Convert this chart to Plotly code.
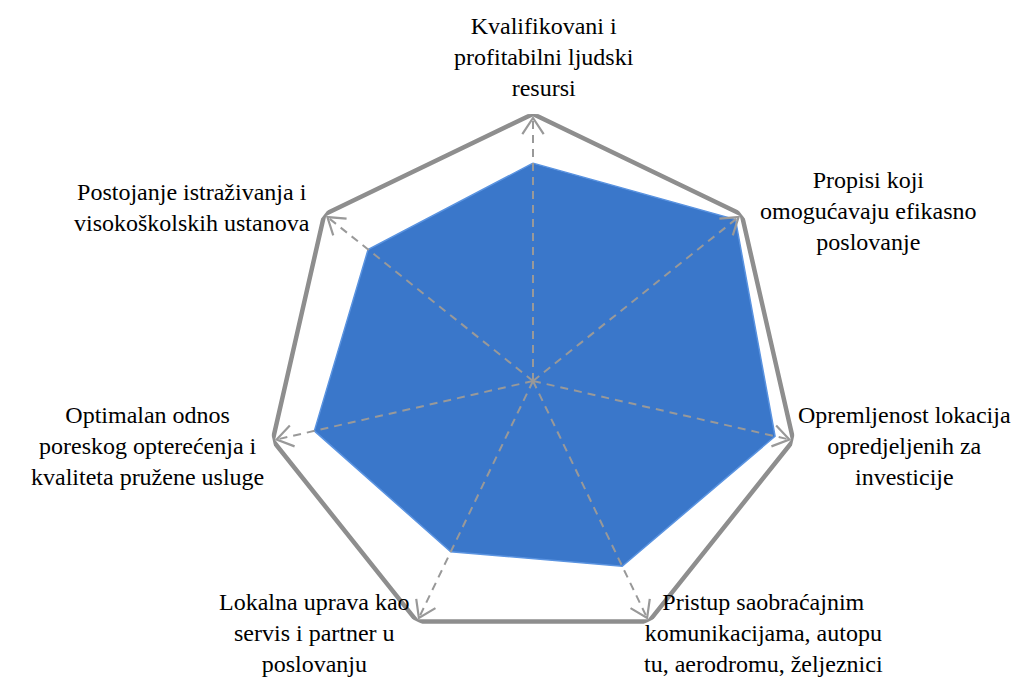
import numpy as np
import plotly.graph_objects as go

categories = [
    "Kvalifikovani i<br>profitabilni ljudski<br>resursi",
    "Propisi koji<br>omogućavaju efikasno<br>poslovanje",
    "Opremljenost lokacija<br>opredjeljenih za<br>investicije",
    "Pristup saobraćajnim<br>komunikacijama, autopu<br>tu, aerodromu, željeznici",
    "Lokalna uprava kao<br>servis i partner u<br>poslovanju",
    "Optimalan odnos<br>poreskog opterećenja i<br>kvaliteta pružene usluge",
    "Postojanje istraživanja i<br>visokoškolskih ustanova",
]
values = [4.08, 4.85, 4.65, 3.85, 3.55, 4.2, 3.95]
rmax = 5.0

# label placement (paper px centres)
label_pos = [(536, 49), (860, 203), (896, 438), (755, 625), (306, 625), (139, 438), (184, 199)]

W, H = 1035, 677
cx, cy, R = 525, 373, 267
dom_x = [(cx - R) / W, (cx + R) / W]
dom_y = [(H - cy - R) / H, (H - cy + R) / H]

n = len(categories)
thetas = [i * 360.0 / n for i in range(n)]
GREY = "#8e8e8e"
FONT = "Liberation Serif"

fig = go.Figure()
fig.add_trace(go.Scatterpolar(
    r=values + [values[0]],
    theta=thetas + [thetas[0]],
    fill="toself",
    fillcolor="#3a77ca",
    line=dict(color="#5a93e0", width=1.5),
    mode="lines",
    hoverinfo="skip",
    showlegend=False,
))

# outer polygon
fig.add_trace(go.Scatterpolar(
    r=[rmax] * (n + 1),
    theta=thetas + [thetas[0]],
    mode="lines",
    line=dict(color=GREY, width=4.5),
    hoverinfo="skip",
    showlegend=False,
))

# dashed spokes with arrowheads
d = 0.075 * rmax
h = 0.04 * rmax
for t in thetas:
    fig.add_trace(go.Scatterpolar(
        r=[0, rmax * 0.99],
        theta=[t, t],
        mode="lines",
        line=dict(color="#999999", width=2, dash="8px,6px"),
        hoverinfo="skip",
        showlegend=False,
    ))
    rr = np.hypot(rmax - d, h)
    dt = np.degrees(np.arctan2(h, rmax - d))
    fig.add_trace(go.Scatterpolar(
        r=[rr, rmax * 0.985, rr],
        theta=[t - dt, t, t + dt],
        mode="lines",
        line=dict(color="#999999", width=2.2),
        hoverinfo="skip",
        showlegend=False,
    ))

annotations = []
for text, (px, py) in zip(categories, label_pos):
    annotations.append(dict(
        x=px / W, y=1 - py / H, xref="paper", yref="paper",
        text=text, showarrow=False, xanchor="center", yanchor="middle",
        align="center", font=dict(family=FONT, size=24, color="black"),
    ))

fig.update_layout(
    width=W, height=H,
    margin=dict(l=0, r=0, t=0, b=0),
    paper_bgcolor="white",
    plot_bgcolor="white",
    font=dict(family=FONT, size=24, color="black"),
    annotations=annotations,
    polar=dict(
        domain=dict(x=dom_x, y=dom_y),
        bgcolor="rgba(0,0,0,0)",
        radialaxis=dict(range=[0, rmax], visible=False, showgrid=False, showline=False),
        angularaxis=dict(
            direction="clockwise",
            rotation=90,
            showline=False,
            showgrid=False,
            showticklabels=False,
            ticks="",
        ),
    ),
)

fig.write_html("out.html")
